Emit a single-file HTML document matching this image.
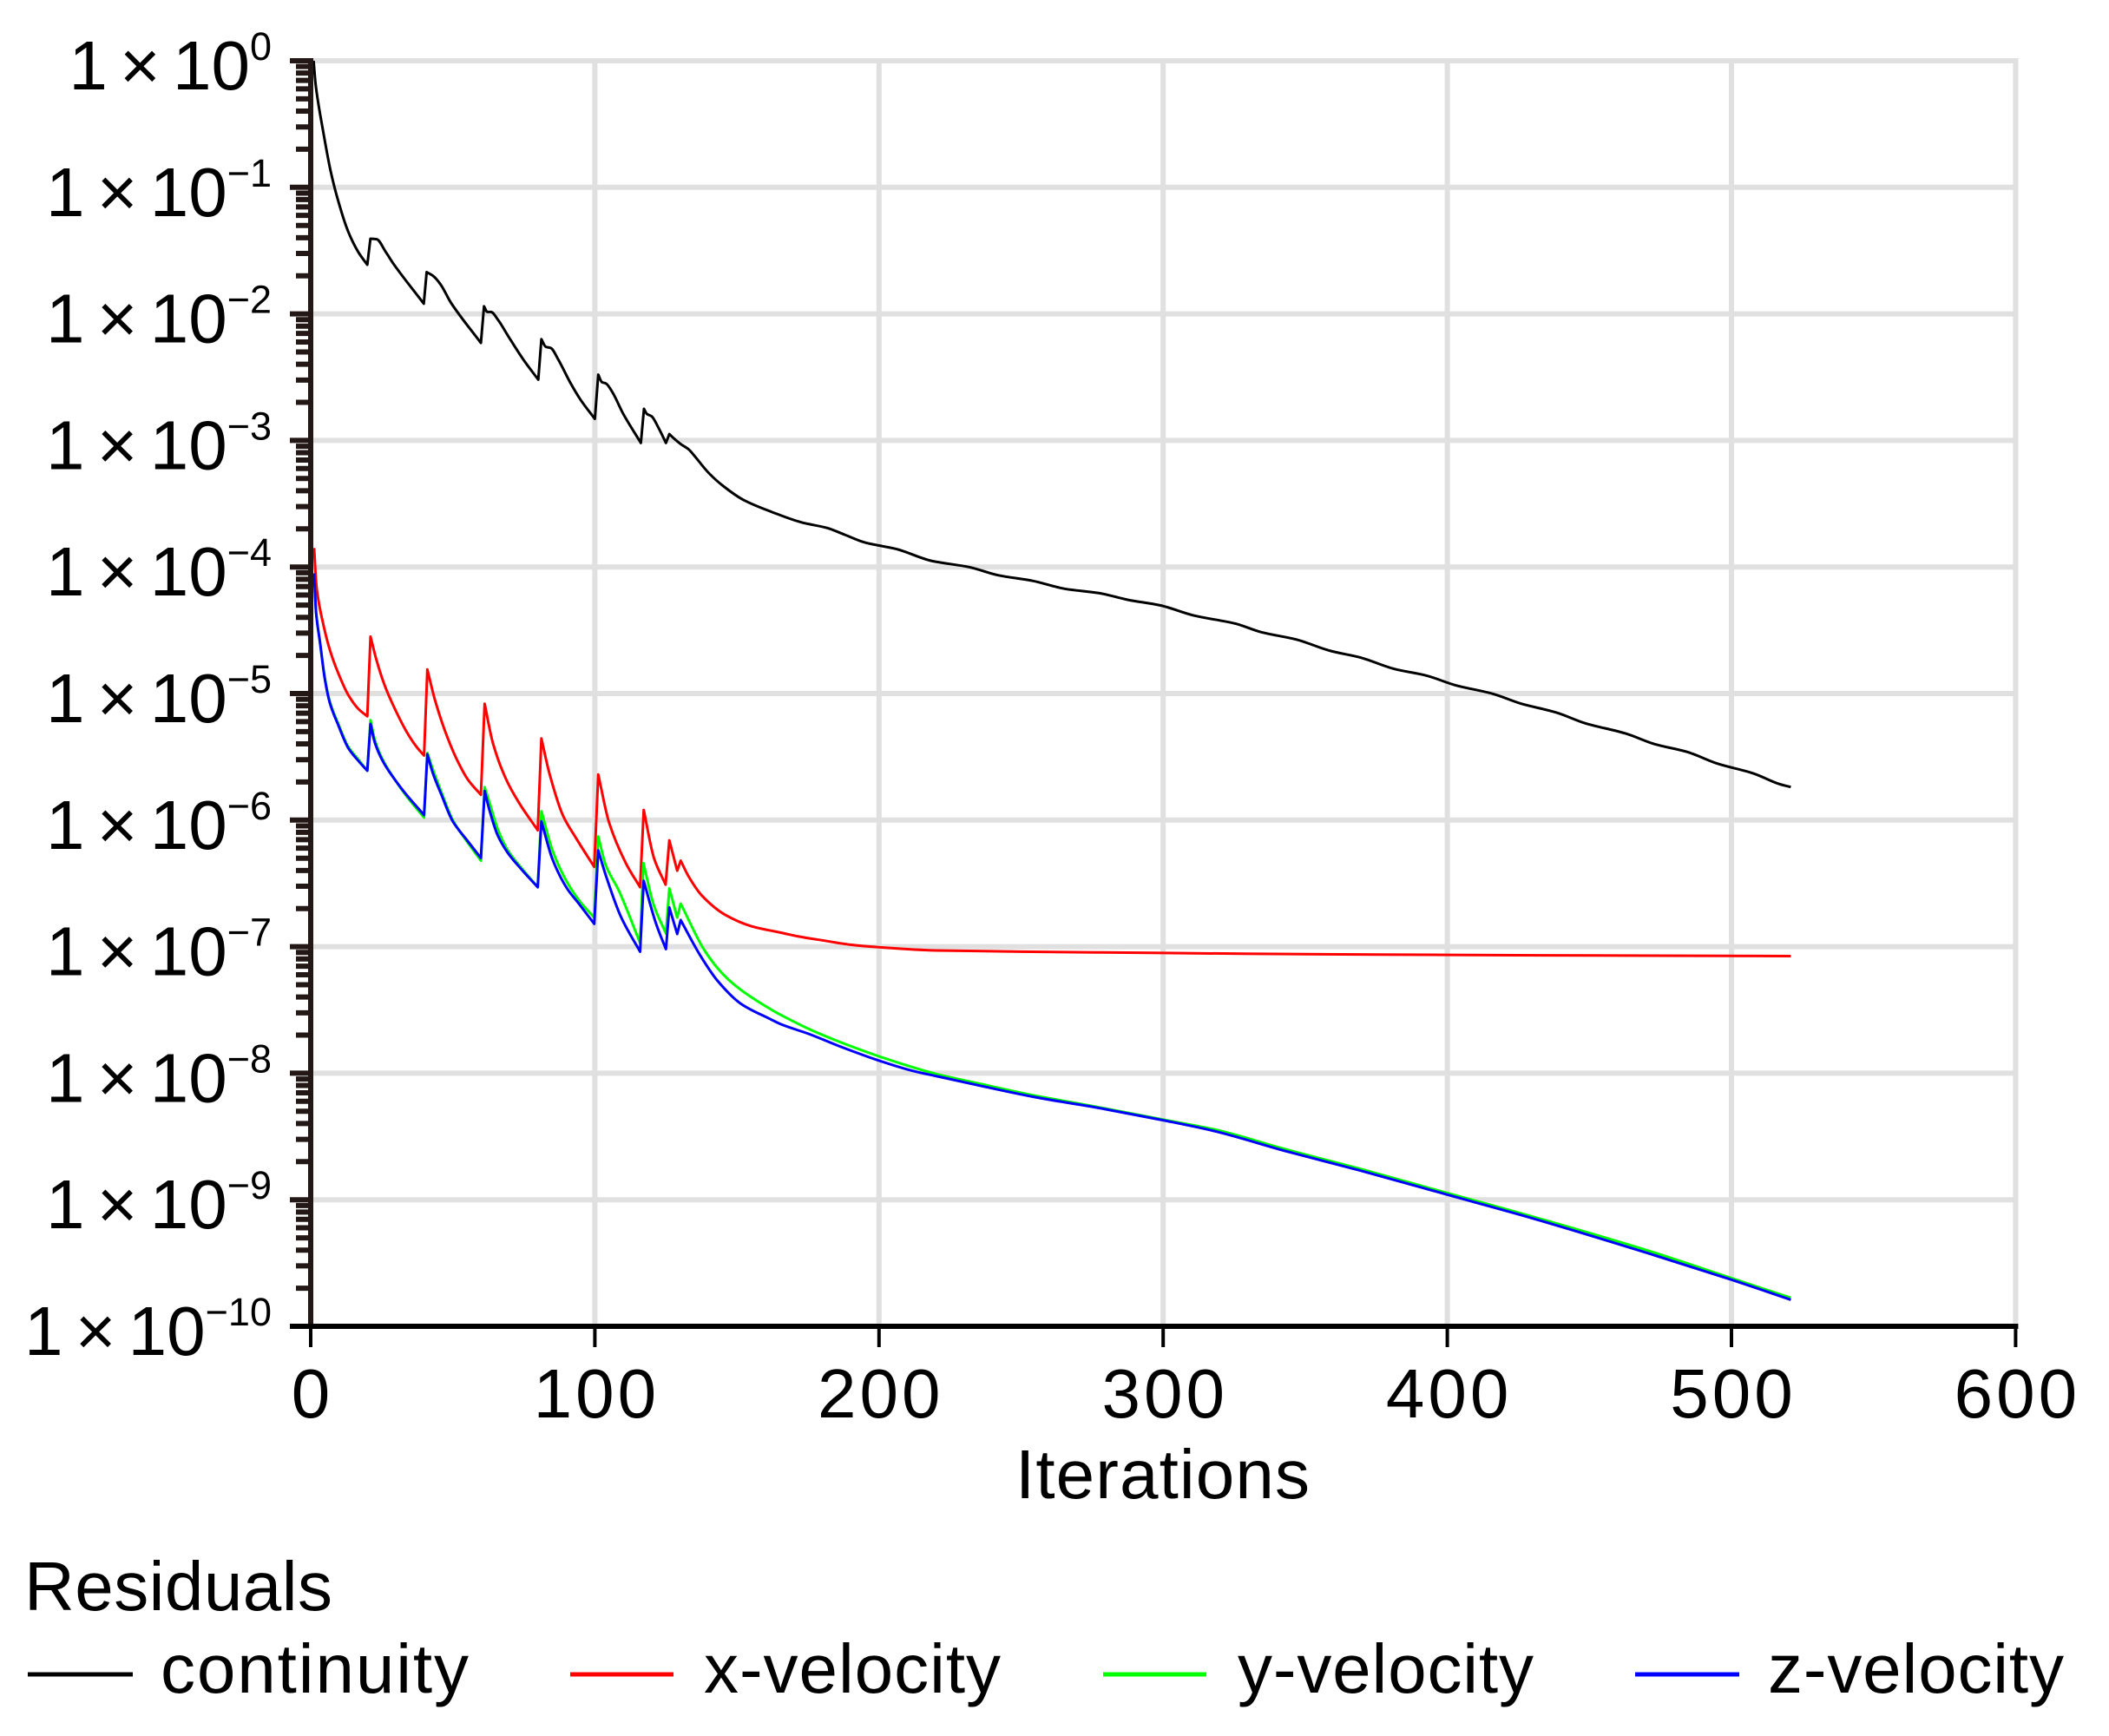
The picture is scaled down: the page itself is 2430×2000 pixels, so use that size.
<!DOCTYPE html>
<html lang="en">
<head>
<meta charset="utf-8">
<title>Residuals</title>
<style>
html,body{margin:0;padding:0;background:#fff;}
svg{display:block;font-family:"Liberation Sans",sans-serif;fill:#000;}
text{font-size:80px;}
</style>
</head>
<body>
<svg id="chart" xmlns="http://www.w3.org/2000/svg" width="2430" height="2000" viewBox="0 0 2430 2000">
  <rect x="0" y="0" width="2430" height="2000" fill="#fff"/>
  <g id="grid"></g>
  <g id="series"></g>
  <g id="axes"></g>
  <text x="1170" y="1726" textLength="339">Iterations</text>
  <g>
    <text x="28" y="1855" textLength="355">Residuals</text>
    <g>
      <rect x="32" y="1926.5" width="121" height="5" fill="#000"/>
      <text x="185" y="1950" textLength="355">continuity</text>
    </g>
    <g>
      <rect x="657" y="1926.5" width="119" height="5" fill="#f00"/>
      <text x="811" y="1950" textLength="342">x-velocity</text>
    </g>
    <g>
      <rect x="1271" y="1926.5" width="119" height="5" fill="#0f0"/>
      <text x="1426" y="1950" textLength="341">y-velocity</text>
    </g>
    <g>
      <rect x="1884" y="1926.5" width="120" height="5" fill="#00f"/>
      <text x="2037" y="1950" textLength="341">z-velocity</text>
    </g>
  </g>
</svg>
<script>
// Tick values
const xTickValues = [0, 100, 200, 300, 400, 500, 600];
const yTickExponents = [0, -1, -2, -3, -4, -5, -6, -7, -8, -9, -10];

// Series: iteration numbers and log10(residual)
const continuityIterations = [1,1.8,4.4,7,9.7,13.2,16.7,19.9,21,23.2,26.4,29,39.8,40.8,43.1,45.8,49.3,59.9,61,62.2,63.4,66,69.6,74.8,80.1,81.2,82.7,84.5,87.1,91.5,95,100,101.2,102.5,103.9,106.2,110,116.2,117.3,118.3,120,122.4,125,126.2,127.6,130.3,133,135,140.1,145.2,152.3,162.5,172.6,181.8,187.9,195.1,206.2,218.4,231.7,241.9,254.1,265.3,277.6,287.7,298.9,311.1,325.4,334.5,346.8,359,369.2,381.4,392.6,402.8,416,426,438.4,448.6,462.8,473,484.2,495.4,507.6,516.8,520.9];
const continuityLog = [0,-0.2,-0.56,-0.87,-1.11,-1.35,-1.51,-1.612,-1.406,-1.41,-1.51,-1.6,-1.92,-1.67,-1.7,-1.77,-1.91,-2.23,-1.94,-1.985,-1.985,-2.05,-2.18,-2.36,-2.52,-2.2,-2.26,-2.27,-2.36,-2.55,-2.68,-2.83,-2.48,-2.54,-2.55,-2.62,-2.79,-3.02,-2.75,-2.79,-2.81,-2.9,-3.02,-2.95,-2.98,-3.03,-3.07,-3.121,-3.258,-3.361,-3.47,-3.567,-3.647,-3.692,-3.745,-3.807,-3.859,-3.951,-4.001,-4.065,-4.11,-4.172,-4.207,-4.26,-4.303,-4.385,-4.447,-4.515,-4.573,-4.664,-4.714,-4.806,-4.858,-4.934,-5.002,-5.08,-5.15,-5.235,-5.316,-5.4,-5.46,-5.556,-5.63,-5.715,-5.739];

const xVelocityIterations = [1.2,2.1,4.4,6.8,9.7,13.2,16.7,19.9,21.05,23.2,26.1,29.6,33.7,37.2,39.9,41.05,43.6,47.1,51.2,55.3,59.9,61.2,64.1,68.8,73.5,79.9,81.2,84,88.7,93.3,99.8,101.2,105,110.9,115.9,117.2,120.8,124.9,126.2,129,130.2,133.1,137.8,146,155.3,165.6,171.7,180,190,200,220,250,300,350,400,450,520.9];
const xVelocityLog = [-3.85,-4.17,-4.45,-4.66,-4.84,-5.01,-5.12,-5.18,-4.55,-4.74,-4.94,-5.12,-5.3,-5.42,-5.49,-4.81,-5.04,-5.285,-5.51,-5.68,-5.8,-5.08,-5.39,-5.68,-5.87,-6.08,-5.355,-5.63,-5.96,-6.14,-6.37,-5.64,-6.02,-6.34,-6.53,-5.92,-6.3,-6.51,-6.16,-6.4,-6.32,-6.45,-6.6,-6.75,-6.84,-6.89,-6.92,-6.95,-6.985,-7.005,-7.03,-7.04,-7.05,-7.06,-7.065,-7.07,-7.075];

const yVelocityIterations = [1.2,1.9,3.3,5,6.8,9.7,13.2,16.7,19.9,21.05,22.6,25.5,29.6,33.7,39.9,41.05,43,46,50,54.7,59.9,61.2,62.9,65.8,69.4,74.6,79.9,81.2,85.1,90.2,95,99.8,101.2,103.9,108.5,115.9,117.1,120.7,125,126.2,129,130.2,138.6,145.2,151.3,161.5,165.5,175.7,185.9,199.1,211.4,220.5,236.8,255.1,277.6,300,318.3,343.7,369.2,399.7,430.3,471,500,520.9];
const yVelocityLog = [-4.05,-4.36,-4.6,-4.88,-5.07,-5.24,-5.42,-5.52,-5.61,-5.21,-5.37,-5.53,-5.68,-5.81,-5.98,-5.47,-5.6,-5.78,-6,-6.16,-6.32,-5.74,-5.86,-6.07,-6.24,-6.39,-6.53,-5.93,-6.24,-6.49,-6.65,-6.77,-6.13,-6.36,-6.56,-6.97,-6.34,-6.67,-6.895,-6.54,-6.77,-6.66,-7.03,-7.22,-7.34,-7.49,-7.54,-7.654,-7.75,-7.86,-7.95,-8.008,-8.09,-8.178,-8.27,-8.367,-8.446,-8.605,-8.755,-8.945,-9.135,-9.405,-9.62,-9.775];

const zVelocityIterations = [1.2,1.9,3.3,5,6.8,9.7,13.2,16.7,19.9,21.05,22.6,25.5,29.6,33.7,39.9,41.05,43,46,50,54.7,59.9,61.2,62.9,65.8,69.4,74.6,79.9,81.2,85.1,90.2,94,99.8,101.2,103.9,109.1,115.9,117.2,121.4,125,126.2,129,130.2,137.1,143.2,151.3,161.5,165.5,175.7,185.9,199.1,211.4,220.5,236.8,255.1,277.6,300,318.3,343.7,369.2,399.7,430.3,471,500,520.9];
const zVelocityLog = [-4.05,-4.36,-4.6,-4.89,-5.08,-5.25,-5.43,-5.53,-5.61,-5.24,-5.39,-5.54,-5.68,-5.8,-5.96,-5.48,-5.63,-5.8,-6.01,-6.15,-6.3,-5.77,-5.92,-6.12,-6.26,-6.4,-6.53,-6.01,-6.31,-6.54,-6.65,-6.82,-6.24,-6.44,-6.76,-7.04,-6.48,-6.81,-7.02,-6.69,-6.9,-6.79,-7.07,-7.27,-7.45,-7.57,-7.613,-7.693,-7.785,-7.894,-7.979,-8.025,-8.105,-8.19,-8.276,-8.372,-8.459,-8.619,-8.768,-8.958,-9.149,-9.425,-9.632,-9.79];

// Axis functions
const xPerIteration = 3.274;
const yPerDecade = 145.8;
function xScale(v) { return 358 + xPerIteration * v; }
function yScale(v) { return 70 - yPerDecade * v; }

const NS = 'http://www.w3.org/2000/svg';
function mk(tag, attrs, parent) {
  const el = document.createElementNS(NS, tag);
  for (const k in attrs) el.setAttribute(k, attrs[k]);
  parent.appendChild(el);
  return el;
}
const grid = document.getElementById('grid');
const axes = document.getElementById('axes');
const seriesGroup = document.getElementById('series');
const plotRight = xScale(xTickValues[xTickValues.length - 1]);
const plotBottom = yScale(yTickExponents[yTickExponents.length - 1]);

// Grid
yTickExponents.forEach(function (e) {
  const line = mk('line', {x1: xScale(0), x2: plotRight + 3, y1: yScale(e), y2: yScale(e), stroke: '#e0e0e0', 'stroke-width': 6}, grid);
  
  
});
xTickValues.forEach(function (v) {
  const line = mk('line', {x1: xScale(v), x2: xScale(v), y1: 67, y2: plotBottom, stroke: '#e0e0e0', 'stroke-width': 6}, grid);
  
  
});

// Smooth path through the data: rising jumps stay straight so spikes keep sharp tips.
function seriesPath(iterations, values) {
  const xs = iterations.map(xScale);
  const ys = values.map(yScale);
  const n = xs.length;
  const slope = [];
  const isJump = [];
  for (let i = 0; i < n - 1; i++) {
    slope.push((ys[i + 1] - ys[i]) / (xs[i + 1] - xs[i]));
    isJump.push(ys[i + 1] < ys[i]);
  }
  const tangent = [];
  for (let i = 0; i < n; i++) {
    const hasPrev = i > 0 && !isJump[i - 1];
    const hasNext = i < n - 1 && !isJump[i];
    if (hasPrev && hasNext) {
      const a = slope[i - 1];
      const b = slope[i];
      tangent.push(a * b <= 0 ? 0 : 2 * a * b / (a + b));
    } else if (hasPrev) {
      tangent.push(slope[i - 1]);
    } else if (hasNext) {
      tangent.push(slope[i]);
    } else {
      tangent.push(0);
    }
  }
  let d = 'M' + xs[0].toFixed(1) + ' ' + ys[0].toFixed(1);
  for (let i = 0; i < n - 1; i++) {
    if (isJump[i]) {
      d += 'L' + xs[i + 1].toFixed(1) + ' ' + ys[i + 1].toFixed(1);
    } else {
      const h = (xs[i + 1] - xs[i]) / 3;
      d += 'C' + (xs[i] + h).toFixed(2) + ' ' + (ys[i] + tangent[i] * h).toFixed(2) + ' ' +
        (xs[i + 1] - h).toFixed(2) + ' ' + (ys[i + 1] - tangent[i + 1] * h).toFixed(2) + ' ' +
        xs[i + 1].toFixed(1) + ' ' + ys[i + 1].toFixed(1);
    }
  }
  return d;
}

// Series
function drawSeries(name, color, iterations, values) {
  const line = mk('path', {d: seriesPath(iterations, values), fill: 'none', stroke: color, 'stroke-width': 3, 'stroke-linejoin': 'round'}, seriesGroup);
  
  
}
drawSeries('series-continuity', '#000', continuityIterations, continuityLog);
drawSeries('series-x-velocity', '#f00', xVelocityIterations, xVelocityLog);
drawSeries('series-y-velocity', '#0f0', yVelocityIterations, yVelocityLog);
drawSeries('series-z-velocity', '#00f', zVelocityIterations, zVelocityLog);

// Y axis
const yAxisLine = mk('line', {x1: 358, x2: 358, y1: 67, y2: plotBottom + 3, stroke: '#231815', 'stroke-width': 6}, axes);


yTickExponents.forEach(function (e, i) {
  const tick = mk('line', {x1: 334, x2: 358, y1: yScale(e), y2: yScale(e), stroke: '#231815', 'stroke-width': 6}, axes);
  
  
  if (i < yTickExponents.length - 1) {
    for (let m = 2; m <= 9; m++) {
      const yy = yScale(e - 1 + Math.log10(m));
      const minor = mk('line', {x1: 341, x2: 358, y1: yy, y2: yy, stroke: '#231815', 'stroke-width': 6}, axes);
      
      
    }
  }
  const label = mk('text', {x: 313, y: yScale(e) + 33, 'text-anchor': 'end'}, axes);
  
  
  const base = mk('tspan', {'word-spacing': '-8px'}, label);
  base.textContent = '1 \u00D7 10';
  const exp = mk('tspan', {dy: -34, style: 'font-size:45px'}, label);
  exp.textContent = e === 0 ? '0' : '\u2212' + Math.abs(e);
});

// X axis
const xAxisLine = mk('line', {x1: 334, x2: plotRight + 3, y1: plotBottom, y2: plotBottom, stroke: '#000', 'stroke-width': 6}, axes);


xTickValues.forEach(function (v) {
  const tick = mk('line', {x1: xScale(v), x2: xScale(v), y1: plotBottom, y2: 1552, stroke: '#000', 'stroke-width': 4}, axes);
  
  
  const label = mk('text', {x: xScale(v) + 2, y: 1633, 'text-anchor': 'middle', 'letter-spacing': '4'}, axes);
  
  
  label.textContent = String(v);
});
</script>
</body>
</html>
